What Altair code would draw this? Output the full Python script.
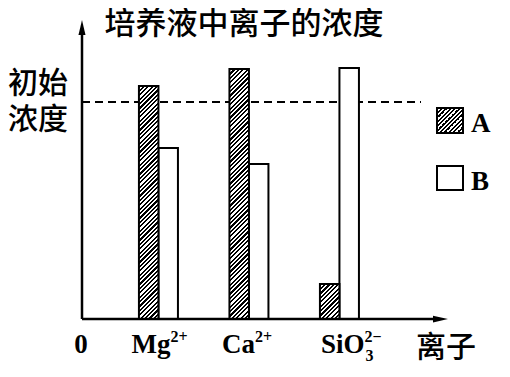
import altair as alt
import pandas as pd

# ---- data (initial concentration = 100) ----
ions = ["Mg", "Ca", "SiO3"]
label_base = ["Mg", "Ca", "SiO"]
label_sup = ["2+", "2+", "2\u2212"]
label_sub = ["", "", "3"]
groups = ["A", "B"]
conc_A = [107.4, 115.2, 16.1]
conc_B = [78.8, 71.4, 115.7]
initial = 100

title_text = "培养液中离子的浓度"
ylab_lines = ["初始", "浓度"]
xlab_text = "离子"
origin_text = "0"

rows = []
for i, ion in enumerate(ions):
    rows.append({"ion": ion, "group": "A", "value": conc_A[i]})
    rows.append({"ion": ion, "group": "B", "value": conc_B[i]})
df = pd.DataFrame(rows)
labels = pd.DataFrame({"ion": ions, "base": label_base, "sup": label_sup, "sub": label_sub})

# ---- geometry / style ----
W, H = 366, 299
YMAX = 137.8
PPU = H / YMAX
BAR_W = 19.5
SERIF = "Liberation Serif"
CJK = "Noto Sans CJK SC"
CJK_W = 500

xscale = alt.Scale(domain=ions, paddingInner=0.569, paddingOuter=0.8066, align=0.39, round=False)
yscale = alt.Scale(domain=[0, YMAX], nice=False, zero=True)
offscale = alt.Scale(domain=groups, paddingInner=0, paddingOuter=0)


def hatch(w, h, pitch=4.4, dark=0.5):
    s = (w + h) / (w * w + h * h)
    n = (w + h) / pitch
    stops = []
    k = 0
    while k < n:
        a = k / n
        b = min((k + dark) / n, 1)
        c = min((k + 1) / n, 1)
        stops += [
            {"offset": a, "color": "black"},
            {"offset": b, "color": "black"},
            {"offset": b, "color": "white"},
            {"offset": c, "color": "white"},
        ]
        k += 1
    return {"gradient": "linear", "x1": 0, "y1": 0, "x2": w * s, "y2": h * s, "stops": stops}


one = alt.Data(values=[{"k": 1}])

enc = dict(
    x=alt.X("ion:N", scale=xscale, axis=None, sort=ions),
    xOffset=alt.XOffset("group:N", scale=offscale, sort=groups),
    y=alt.Y("value:Q", scale=yscale, axis=None),
)

layers = []

# dashed initial-concentration line
layers.append(
    alt.Chart(one).mark_rule(color="black", strokeWidth=2, strokeDash=[8, 5]).encode(
        y=alt.Y(datum=initial, type="quantitative", scale=yscale, axis=None),
        x=alt.value(0), x2=alt.value(339)
    )
)

# B bars
layers.append(
    alt.Chart(df).transform_filter(alt.datum.group == "B")
    .mark_bar(fill="white", stroke="black", strokeWidth=2)
    .encode(**enc)
)

# A bars (hatched)
for i, ion in enumerate(ions):
    layers.append(
        alt.Chart(df).transform_filter((alt.datum.group == "A") & (alt.datum.ion == ion))
        .mark_bar(fill=hatch(BAR_W, conc_A[i] * PPU), stroke="black", strokeWidth=2)
        .encode(**enc)
    )

# axes
layers.append(alt.Chart(one).mark_rule(color="black", strokeWidth=2.5).encode(
    x=alt.value(0), y=alt.value(H), y2=alt.value(10)))
layers.append(alt.Chart(one).mark_rule(color="black", strokeWidth=2.5).encode(
    x=alt.value(0), x2=alt.value(355), y=alt.value(H)))
layers.append(alt.Chart(one).mark_point(shape="M0,-1L0.47,1L-0.47,1Z", filled=True, opacity=1,
                                        color="black", size=225).encode(
    x=alt.value(0), y=alt.value(7.5)))
layers.append(alt.Chart(one).mark_point(shape="M1,0L-1,-0.45L-1,0.45Z", filled=True, opacity=1,
                                        color="black", size=225).encode(
    x=alt.value(W - 7.5), y=alt.value(H)))

# ion labels
dx_base = {"Mg": 12, "Ca": 6, "SiO3": 25}
for ion in ions:
    d = dx_base[ion]
    base = alt.Chart(labels).transform_filter(alt.datum.ion == ion)
    xenc = alt.X("ion:N", scale=xscale, axis=None, sort=ions)
    layers.append(base.mark_text(font=SERIF, fontSize=27, fontWeight="bold", align="right",
                                 baseline="alphabetic", dx=d, color="black").encode(
        x=xenc, y=alt.value(333), text="base:N"))
    layers.append(base.mark_text(font=SERIF, fontSize=16, fontWeight="bold", align="left",
                                 baseline="alphabetic", dx=d, color="black").encode(
        x=xenc, y=alt.value(322), text="sup:N"))
    layers.append(base.mark_text(font=SERIF, fontSize=16, fontWeight="bold", align="left",
                                 baseline="alphabetic", dx=d + 1, color="black").encode(
        x=xenc, y=alt.value(341), text="sub:N"))

# origin "0"
layers.append(alt.Chart(one).mark_text(font=SERIF, fontSize=27, fontWeight="bold", align="center",
                                       baseline="alphabetic", color="black", text=origin_text).encode(
    x=alt.value(-1), y=alt.value(333)))

# title, y label (two lines in one text), x label (Chinese)
layers.append(alt.Chart(one).mark_text(font=CJK, fontSize=31, fontWeight=CJK_W, align="center",
                                       baseline="middle", color="black", text=title_text).encode(
    x=alt.value(162), y=alt.value(5)))
layers.append(alt.Chart(one).mark_text(font=CJK, fontSize=30, fontWeight=CJK_W, align="left",
                                       baseline="middle", lineHeight=36, color="black",
                                       text=ylab_lines).encode(
    x=alt.value(-74), y=alt.value(64)))
layers.append(alt.Chart(one).mark_text(font=CJK, fontSize=30, fontWeight=CJK_W, align="center",
                                       baseline="middle", color="black", text=xlab_text).encode(
    x=alt.value(364), y=alt.value(328)))

# legend (drawn)
layers.append(alt.Chart(one).mark_rect(fill=hatch(26, 25), stroke="black", strokeWidth=2).encode(
    x=alt.value(355), x2=alt.value(381), y=alt.value(88), y2=alt.value(113)))
layers.append(alt.Chart(one).mark_rect(fill="white", stroke="black", strokeWidth=2).encode(
    x=alt.value(355), x2=alt.value(381), y=alt.value(146), y2=alt.value(170)))
layers.append(alt.Chart(one).mark_text(font=SERIF, fontSize=27, fontWeight="bold", align="left",
                                       baseline="alphabetic", color="black", text=groups[0]).encode(
    x=alt.value(389), y=alt.value(112)))
layers.append(alt.Chart(one).mark_text(font=SERIF, fontSize=27, fontWeight="bold", align="left",
                                       baseline="alphabetic", color="black", text=groups[1]).encode(
    x=alt.value(389), y=alt.value(170)))

chart = alt.layer(*layers).properties(
    width=W, height=H,
    padding={"left": 74, "top": 12, "right": 54, "bottom": 50},
    autosize=alt.AutoSizeParams(type="none"),
).configure_view(stroke=None)

chart.save("out.html", embed_options={"renderer": "svg", "actions": False})
